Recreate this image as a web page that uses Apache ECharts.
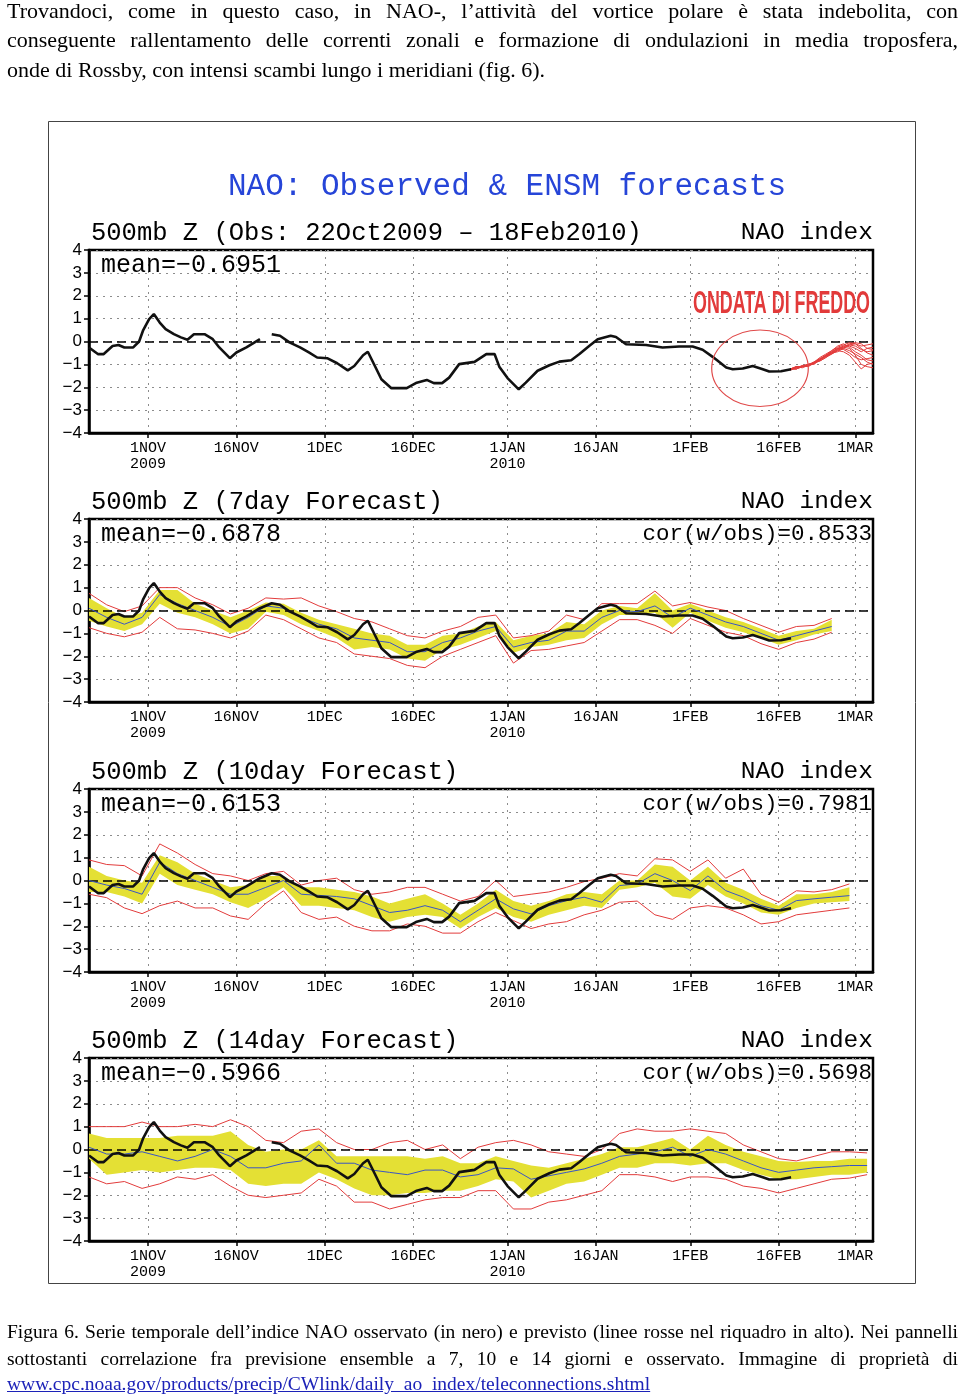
<!DOCTYPE html>
<html><head><meta charset="utf-8">
<script src="https://cdn.jsdelivr.net/npm/echarts@6/dist/echarts.min.js"></script>
<style>
html,body{margin:0;padding:0;background:#fff;}
#page{position:relative;width:960px;height:1396px;overflow:hidden;background:#fff;}
#chart{position:absolute;left:0;top:0;width:960px;height:1396px;}
.ln{position:absolute;left:7px;width:951px;font-family:"Liberation Serif","Times New Roman",serif;color:#000;}
.top{font-size:22px;line-height:22px;}
.cap{font-size:19.5px;line-height:19.5px;}
.j{text-align:justify;text-align-last:justify;}
a{color:#1c22b8;text-decoration:underline;}
</style></head>
<body><div id="page">
<div id="chart"></div>
<div class="ln top j" style="top:0px">Trovandoci, come in questo caso, in NAO-, l’attività del vortice polare è stata indebolita, con</div>
<div class="ln top j" style="top:29.3px">conseguente rallentamento delle correnti zonali e formazione di ondulazioni in media troposfera,</div>
<div class="ln top" style="top:58.6px">onde di Rossby, con intensi scambi lungo i meridiani (fig. 6).</div>
<div class="ln cap j" style="top:1322px">Figura 6. Serie temporale dell’indice NAO osservato (in nero) e previsto (linee rosse nel riquadro in alto). Nei pannelli</div>
<div class="ln cap j" style="top:1348.7px">sottostanti correlazione fra previsione ensemble a 7, 10 e 14 giorni e osservato. Immagine di proprietà di</div>
<div class="ln cap" style="top:1374.2px"><a>www.cpc.noaa.gov/products/precip/CWlink/daily_ao_index/teleconnections.shtml</a></div>
</div>
<script>
// ---------------- DATA ----------------
// x = days since 22 Oct 2009
const TICK_DAYS = [10, 25, 40, 55, 71, 86, 102, 117, 130];
const TICK_LABELS = ['1NOV\n2009', '16NOV', '1DEC', '16DEC', '1JAN\n2010', '16JAN', '1FEB', '16FEB', '1MAR'];
const Y_TICKS_MIN = -4, Y_TICKS_MAX = 4;

const TITLE = 'NAO: Observed & ENSM forecasts';
const SUBTITLES = ['500mb Z (Obs: 22Oct2009 \u2013 18Feb2010)', '500mb Z (7day Forecast)', '500mb Z (10day Forecast)', '500mb Z (14day Forecast)'];
const RIGHT_TITLE = 'NAO index';
const MEANS = ['mean=\u22120.6951', 'mean=\u22120.6878', 'mean=\u22120.6153', 'mean=\u22120.5966'];
const CORS = [null, 'cor(w/obs)=0.8533', 'cor(w/obs)=0.7981', 'cor(w/obs)=0.5698'];
const ANNOT = 'ONDATA DI FREDDO';

// observed NAO index
const OBS_DAYS = [0,1.5,2.5,4,5,6,7.5,8.5,9.2,10.2,11,12,13,14.4,15.6,16.7,17.8,19.6,21,22.1,23.9,25,26.7,29,30,31,32.4,34,35.8,37.3,38.7,40.4,42.1,43.9,45,46.5,47.3,48.5,49.6,51.3,53.9,55.6,57.3,58.5,59.9,61.1,62.8,65.4,67.4,68.8,69.6,71,72.9,74.1,76.1,78.1,79.8,81.8,83.2,84.9,86.3,88.5,89.4,91.1,94.5,97.3,100.1,102.4,104.1,105.8,108.1,109.2,110.9,112.6,114.3,115.4,117.4,119.1];
const OBS_VALS = [-0.26,-0.55,-0.55,-0.2,-0.15,-0.26,-0.26,0.0,0.5,0.98,1.2,0.83,0.54,0.32,0.18,0.08,0.32,0.32,0.1,-0.26,-0.73,-0.48,-0.26,0.1,null,0.32,0.25,-0.04,-0.26,-0.48,-0.7,-0.73,-0.95,-1.26,-1.07,-0.6,-0.45,-1.07,-1.65,-2.04,-2.04,-1.8,-1.68,-1.82,-1.82,-1.58,-0.99,-0.89,-0.55,-0.55,-1.1,-1.6,-2.09,-1.8,-1.28,-1.04,-0.88,-0.82,-0.55,-0.19,0.1,0.25,0.2,-0.12,-0.15,-0.26,-0.22,-0.22,-0.36,-0.67,-1.14,-1.21,-1.18,-1.07,-1.21,-1.31,-1.3,-1.21];

// ensemble members from 18 Feb (top panel)
const ENS_DAYS = [119,120,121,122,123,124,125,126,127,128,129,130,131,132,133];
const ENS_M1  = [-1.2,-1.15,-1.1,-1.05,-0.95,-0.8,-0.6,-0.45,-0.3,-0.2,-0.15,-0.1,-0.2,-0.15,-0.1];
const ENS_M2  = [-1.2,-1.1,-1.1,-1.0,-0.9,-0.75,-0.65,-0.5,-0.35,-0.3,-0.4,-0.55,-0.7,-0.9,-1.0];
const ENS_M3  = [-1.2,-1.2,-1.05,-1.1,-0.95,-0.85,-0.7,-0.5,-0.4,-0.25,-0.1,-0.05,-0.1,-0.3,-0.35];
const ENS_M4  = [-1.25,-1.15,-1.1,-1.0,-1.0,-0.8,-0.6,-0.55,-0.4,-0.45,-0.6,-0.9,-1.2,-1.0,-0.95];
const ENS_M5  = [-1.2,-1.1,-1.15,-1.05,-0.9,-0.7,-0.55,-0.4,-0.25,-0.15,-0.05,-0.1,-0.3,-0.5,-0.6];
const ENS_M6  = [-1.2,-1.2,-1.1,-1.0,-0.95,-0.8,-0.65,-0.45,-0.3,-0.35,-0.5,-0.7,-0.8,-0.75,-0.7];
const ENS_M7  = [-1.25,-1.1,-1.1,-1.05,-0.9,-0.85,-0.7,-0.55,-0.35,-0.2,-0.2,-0.3,-0.45,-0.3,-0.25];
const ENS_M8  = [-1.2,-1.15,-1.05,-1.0,-0.95,-0.75,-0.6,-0.4,-0.2,-0.1,-0.25,-0.45,-0.6,-0.8,-0.85];
const ENS_M9  = [-1.2,-1.1,-1.1,-1.05,-0.95,-0.8,-0.65,-0.5,-0.45,-0.3,-0.15,-0.2,-0.35,-0.45,-0.4];
const ENS_M10 = [-1.2,-1.2,-1.1,-1.05,-0.9,-0.8,-0.6,-0.5,-0.3,-0.25,-0.3,-0.6,-1.0,-1.1,-1.15];

// forecast verification days (every 3 days)
const FC_DAYS = [0,3,6,9,12,15,18,21,24,27,30,33,36,39,42,45,48,51,54,57,60,63,66,69,72,75,78,81,84,87,90,93,96,99,102,105,108,111,114,117,120,123,126,129,132];

// 7-day forecast
const F7_MEAN   = [0.1,-0.3,-0.6,-0.3,0.7,0.3,0.0,-0.3,-0.7,-0.3,0.2,0.1,-0.3,-0.6,-0.8,-1.2,-1.3,-1.4,-1.8,-1.8,-1.4,-1.2,-0.9,-0.7,-1.6,-1.4,-1.3,-0.9,-0.9,-0.3,0.0,-0.05,0.2,-0.3,0.1,-0.2,-0.5,-0.7,-1.0,-1.3,-1.1,-0.9,-0.7];
const F7_BAND_HI = [0.55,0.1,-0.3,-0.1,0.9,0.9,0.3,0.0,-0.3,0.0,0.35,0.3,-0.1,-0.4,-0.6,-0.8,-1.0,-1.1,-1.5,-1.5,-1.1,-1.0,-0.7,-0.5,-1.3,-1.1,-1.0,-0.5,-0.6,0.0,0.2,0.1,0.75,0.0,0.3,0.0,-0.3,-0.5,-0.8,-1.1,-0.9,-0.8,-0.4];
const F7_BAND_LO = [-0.45,-0.7,-0.9,-0.6,0.3,-0.1,-0.3,-0.6,-1.0,-0.8,-0.05,-0.2,-0.6,-0.9,-1.2,-1.7,-1.6,-1.7,-2.1,-2.2,-1.7,-1.5,-1.2,-0.9,-1.85,-1.6,-1.5,-1.3,-1.2,-0.6,-0.2,-0.2,-0.1,-0.75,-0.1,-0.45,-0.75,-0.95,-1.2,-1.5,-1.3,-1.05,-0.9];
const F7_RED_HI = [0.75,0.25,-0.05,0.2,1.0,1.0,0.55,0.25,-0.15,0.1,0.55,0.5,0.55,0.2,-0.05,-0.35,-0.5,-0.8,-1.1,-1.2,-0.9,-0.7,-0.3,-0.2,-1.2,-1.1,-0.9,-0.2,-0.4,0.3,0.3,0.3,0.85,0.2,0.35,0.15,0.0,-0.35,-0.65,-0.95,-0.7,-0.65,-0.35];
const F7_RED_LO = [-0.75,-1.0,-1.15,-0.95,-0.3,-0.8,-0.85,-1.0,-1.2,-0.9,-0.2,-0.4,-0.8,-1.2,-1.4,-1.9,-2.0,-2.1,-2.4,-2.5,-2.0,-1.7,-1.4,-1.1,-2.3,-1.75,-1.7,-1.55,-1.4,-0.9,-0.4,-0.4,-0.65,-1.0,-0.35,-0.65,-0.95,-1.1,-1.45,-1.7,-1.4,-1.25,-0.95];

// 10-day forecast
const F10_MEAN   = [0.0,-0.2,-0.35,-0.6,0.8,0.3,0.0,-0.3,-0.6,-0.6,-0.3,0.0,-0.6,-0.65,-0.7,-0.8,-1.1,-1.4,-1.3,-1.1,-1.3,-1.8,-1.3,-0.8,-1.24,-1.46,-1.1,-0.88,-0.73,-0.95,-0.22,-0.15,0.3,0.0,-0.44,0.2,-0.44,-0.73,-1.1,-1.3,-0.88,-0.8,-0.73,-0.66];
const F10_BAND_HI = [0.6,0.2,0.0,-0.1,1.1,0.8,0.3,0.0,-0.3,-0.2,0.2,0.2,-0.3,-0.3,-0.4,-0.5,-0.7,-1.0,-0.8,-0.6,-1.0,-1.5,-1.0,-0.4,-0.9,-1.1,-0.9,-0.6,-0.5,-0.6,0.0,0.0,0.7,0.6,0.0,0.6,-0.1,-0.4,-0.8,-1.1,-0.6,-0.6,-0.5,-0.3];
const F10_BAND_LO = [-0.5,-0.5,-0.7,-1.0,0.3,-0.2,-0.4,-0.6,-0.95,-1.2,-0.8,-0.3,-1.1,-1.1,-1.2,-1.3,-1.6,-1.8,-1.6,-1.5,-1.6,-2.1,-1.6,-1.2,-1.6,-1.8,-1.5,-1.3,-1.1,-1.2,-0.4,-0.3,-0.1,-0.7,-0.8,-0.2,-0.7,-1.0,-1.4,-1.5,-1.2,-1.0,-0.95,-0.9];
const F10_RED_HI = [0.9,0.7,0.65,0.2,1.6,1.2,0.7,0.3,0.2,0.0,0.3,0.4,-0.2,0.0,0.1,-0.4,-0.6,-0.5,-0.3,-0.3,-0.6,-0.9,-0.7,0.0,-0.7,-0.6,-0.5,-0.3,-0.05,0.1,0.3,0.2,0.95,0.9,0.4,0.9,0.1,0.5,-0.6,-0.95,-0.45,-0.5,-0.4,-0.15];
const F10_RED_LO = [-0.6,-0.75,-1.2,-1.45,-1.1,-0.9,-1.2,-1.2,-1.55,-1.7,-1.0,-0.45,-1.4,-1.7,-1.6,-2.0,-2.2,-2.2,-1.9,-2.0,-2.3,-2.3,-1.8,-1.4,-1.75,-2.1,-1.9,-1.8,-1.5,-1.3,-0.95,-0.9,-1.5,-1.7,-1.2,-1.1,-1.2,-1.5,-1.9,-1.8,-1.5,-1.4,-1.3,-1.2];

// 14-day forecast
const F14_MEAN   = [0.1,-0.2,-0.2,-0.1,-0.3,-0.5,-0.3,0.0,-0.3,-0.8,-0.8,-0.6,-0.5,0.2,-0.6,-0.6,-0.9,-1.0,-1.1,-0.9,-0.9,-1.2,-1.1,-0.8,-0.85,-1.3,-1.15,-1.0,-0.85,-0.6,-0.3,-0.2,-0.1,0.1,-0.3,0.0,-0.2,-0.5,-0.8,-1.0,-0.9,-0.8,-0.75,-0.7,-0.7];
const F14_BAND_HI = [0.7,0.5,0.5,0.5,0.5,0.6,0.6,0.6,0.8,0.2,-0.1,0.0,0.0,0.4,-0.3,-0.3,-0.3,-0.3,-0.3,-0.4,-0.3,-0.6,-0.6,-0.3,-0.5,-0.7,-0.8,-0.6,-0.4,-0.2,0.1,0.1,0.3,0.5,0.0,0.6,0.2,-0.1,-0.3,-0.5,-0.55,-0.5,-0.5,-0.4,-0.4];
const F14_BAND_LO = [-0.4,-1.1,-1.0,-0.9,-1.0,-0.9,-0.8,-0.8,-0.9,-1.5,-1.6,-1.5,-1.5,-1.0,-1.3,-1.7,-2.0,-2.0,-1.9,-1.9,-1.8,-1.8,-1.6,-1.3,-1.4,-2.1,-1.8,-1.5,-1.4,-1.1,-0.8,-0.8,-0.6,-0.6,-0.7,-0.6,-0.6,-0.9,-1.1,-1.3,-1.3,-1.2,-1.1,-1.1,-1.0];
const F14_RED_HI = [1.0,1.0,1.0,1.2,1.0,1.0,1.1,1.0,1.3,1.0,0.4,0.3,0.8,0.9,0.3,0.0,0.0,0.3,0.4,0.0,0.2,-0.4,0.1,0.3,0.4,0.2,-0.1,-0.2,-0.3,0.0,0.7,0.9,0.8,0.8,0.9,0.8,0.7,0.2,-0.1,-0.4,-0.5,-0.3,-0.1,-0.1,-0.15];
const F14_RED_LO = [-1.2,-1.5,-1.4,-1.7,-1.5,-1.2,-1.3,-1.1,-1.6,-2.0,-2.1,-2.0,-1.9,-1.3,-1.6,-2.3,-2.3,-2.6,-2.4,-2.2,-2.1,-2.1,-1.8,-1.8,-2.6,-2.6,-2.3,-2.2,-2.0,-1.8,-1.1,-1.1,-1.2,-1.4,-1.2,-1.2,-1.3,-1.6,-1.7,-1.9,-1.7,-1.5,-1.3,-1.25,-1.1];

// ---------------- LAYOUT / STYLE ----------------
const PANEL_TOP = [250, 519, 789, 1058];
const PLOT_LEFT = 89, PLOT_W = 784, PLOT_H = 183;
const C_BLACK = '#111111', C_RED = '#e23b3b', C_BLUE = '#3a55c4', C_YELLOW = '#e4e034', C_GRID = '#8c8c8c';
const MONO = '"Liberation Mono", "DejaVu Sans Mono", monospace';

const chart = echarts.init(document.getElementById('chart'), null, {renderer: 'canvas'});

const grids = [], xAxes = [], yAxes = [], series = [];
for (let i = 0; i < 4; i++) {
  grids.push({left: PLOT_LEFT, top: PANEL_TOP[i], width: PLOT_W, height: PLOT_H, show: true,
    borderColor: '#000', borderWidth: 2.5, backgroundColor: 'transparent', containLabel: false});
  xAxes.push({type: 'value', gridIndex: i, min: 0, max: 133,
    axisLine: {show: true, onZero: false, lineStyle: {color: '#000', width: 2.5}},
    axisTick: {show: true, customValues: TICK_DAYS, length: 5, lineStyle: {color: '#000', width: 1.5}},
    axisLabel: {show: true, customValues: TICK_DAYS, showMinLabel: true, showMaxLabel: true,
      formatter: v => { const k = TICK_DAYS.indexOf(v); return k >= 0 ? TICK_LABELS[k] : ''; },
      fontFamily: MONO, fontSize: 15, color: '#000', lineHeight: 16, margin: 7},
    splitLine: {show: true, lineStyle: {color: C_GRID, type: [2, 5], width: 1}}});
  yAxes.push({type: 'value', gridIndex: i, min: Y_TICKS_MIN, max: Y_TICKS_MAX, interval: 1,
    axisLine: {show: true, onZero: false, lineStyle: {color: '#000', width: 2.5}},
    axisTick: {show: true, length: 5, lineStyle: {color: '#000', width: 1.5}},
    axisLabel: {formatter: v => v < 0 ? '\u2212' + (-v) : String(v), fontFamily: '"Liberation Sans", sans-serif', fontSize: 17, color: '#000', margin: 7},
    splitLine: {show: true, lineStyle: {color: C_GRID, type: [2, 5], width: 1}}});
}

function pairs(xs, ys) { return ys.map((y, k) => [xs[k], y]); }
function ln(i, data, color, width, z, extra) {
  return Object.assign({type: 'line', xAxisIndex: i, yAxisIndex: i, data: data, symbol: 'none', showSymbol: false,
    lineStyle: {color: color, width: width}, itemStyle: {color: color}, z: z, silent: true, animation: false}, extra || {});
}
const zeroLine = {silent: true, symbol: ['none', 'none'], label: {show: false}, animation: false,
  lineStyle: {color: '#000', type: [9, 5], width: 1.5}, data: [{yAxis: 0}]};

// yellow spread band drawn as one polygon through the axis scales
function bandSeries(i, days, lo, hi) {
  return {type: 'custom', xAxisIndex: i, yAxisIndex: i, z: 2, silent: true, animation: false, clip: true,
    data: days.map((d, k) => [d, lo[k], hi[k]]),
    encode: {x: 0, y: [1, 2]},
    renderItem: function (params, api) {
      if (params.dataIndex !== 0) return null;
      const upper = days.map((d, k) => api.coord([d, hi[k]]));
      const lower = days.map((d, k) => api.coord([d, lo[k]])).reverse();
      return {type: 'polygon', shape: {points: upper.concat(lower)}, style: {fill: C_YELLOW, stroke: null}};
    }};
}

// panel 1: observed + ensemble members
[ENS_M1, ENS_M2, ENS_M3, ENS_M4, ENS_M5, ENS_M6, ENS_M7, ENS_M8, ENS_M9, ENS_M10].forEach(m => {
  series.push(ln(0, pairs(ENS_DAYS, m), C_RED, 1, 5));
});
series.push(ln(0, pairs(OBS_DAYS, OBS_VALS), C_BLACK, 2.6, 10, {connectNulls: false, markLine: zeroLine}));

const FC = [
  {mean: F7_MEAN, hi: F7_BAND_HI, lo: F7_BAND_LO, rhi: F7_RED_HI, rlo: F7_RED_LO, gap: false},
  {mean: F10_MEAN, hi: F10_BAND_HI, lo: F10_BAND_LO, rhi: F10_RED_HI, rlo: F10_RED_LO, gap: false},
  {mean: F14_MEAN, hi: F14_BAND_HI, lo: F14_BAND_LO, rhi: F14_RED_HI, rlo: F14_RED_LO, gap: true}
];
FC.forEach((f, j) => {
  const i = j + 1;
  const days = FC_DAYS.slice(0, f.mean.length);
  series.push(bandSeries(i, days, f.lo, f.hi));
  series.push(ln(i, pairs(days, f.rhi), C_RED, 1, 4));
  series.push(ln(i, pairs(days, f.rlo), C_RED, 1, 4));
  series.push(ln(i, pairs(days, f.mean), C_BLUE, 1, 5));
  series.push(ln(i, pairs(OBS_DAYS, OBS_VALS), C_BLACK, 2.6, 10, {connectNulls: !f.gap, markLine: zeroLine}));
});

// ---------------- TEXT / ANNOTATIONS ----------------
const graphic = [];
graphic.push({type: 'rect', z: 0, shape: {x: 48.5, y: 121.5, width: 867, height: 1162}, style: {fill: 'none', stroke: '#444', lineWidth: 1}});
graphic.push({type: 'text', z: 20, style: {text: TITLE, x: 507, y: 187, fill: '#2645d8', font: '31px ' + MONO,
  textAlign: 'center', textVerticalAlign: 'middle', align: 'center', verticalAlign: 'middle'}});
for (let i = 0; i < 4; i++) {
  const t = PANEL_TOP[i];
  graphic.push({type: 'text', z: 20, style: {text: SUBTITLES[i], x: 91, y: t - 17, fill: '#000', font: '25.5px ' + MONO,
    textAlign: 'left', textVerticalAlign: 'middle', align: 'left', verticalAlign: 'middle'}});
  graphic.push({type: 'text', z: 20, style: {text: RIGHT_TITLE, x: 873, y: t - 17, fill: '#000', font: '24.5px ' + MONO,
    textAlign: 'right', textVerticalAlign: 'middle', align: 'right', verticalAlign: 'middle'}});
  graphic.push({type: 'text', z: 20, style: {text: MEANS[i], x: 101, y: t + 15, fill: '#000', font: '25px ' + MONO,
    textAlign: 'left', textVerticalAlign: 'middle', align: 'left', verticalAlign: 'middle'}});
  if (CORS[i]) graphic.push({type: 'text', z: 20, style: {text: CORS[i], x: 872, y: t + 15, fill: '#000', font: '22.5px ' + MONO,
    textAlign: 'right', textVerticalAlign: 'middle', align: 'right', verticalAlign: 'middle'}});
}
// annotation: cold wave
const annFont = 'bold 31px "Liberation Sans", sans-serif';
const cv = document.createElement('canvas').getContext('2d');
cv.font = annFont;
const annW = cv.measureText(ANNOT).width || 312;
graphic.push({type: 'text', z: 30, x: 781.5, y: 304, scaleX: 177 / annW, style: {text: ANNOT, x: 0, y: 0, fill: '#e23a3a', font: annFont,
  textAlign: 'center', textVerticalAlign: 'middle', align: 'center', verticalAlign: 'middle'}});
graphic.push({type: 'circle', z: 30, x: 760, y: 368.3, scaleY: 38.3 / 48.3, shape: {cx: 0, cy: 0, r: 48.3},
  style: {fill: 'none', stroke: '#e04a4a', lineWidth: 1.2, strokeNoScale: true}});

chart.setOption({
  animation: false,
  backgroundColor: 'transparent',
  grid: grids, xAxis: xAxes, yAxis: yAxes, series: series, graphic: graphic
});
</script>
</body></html>
